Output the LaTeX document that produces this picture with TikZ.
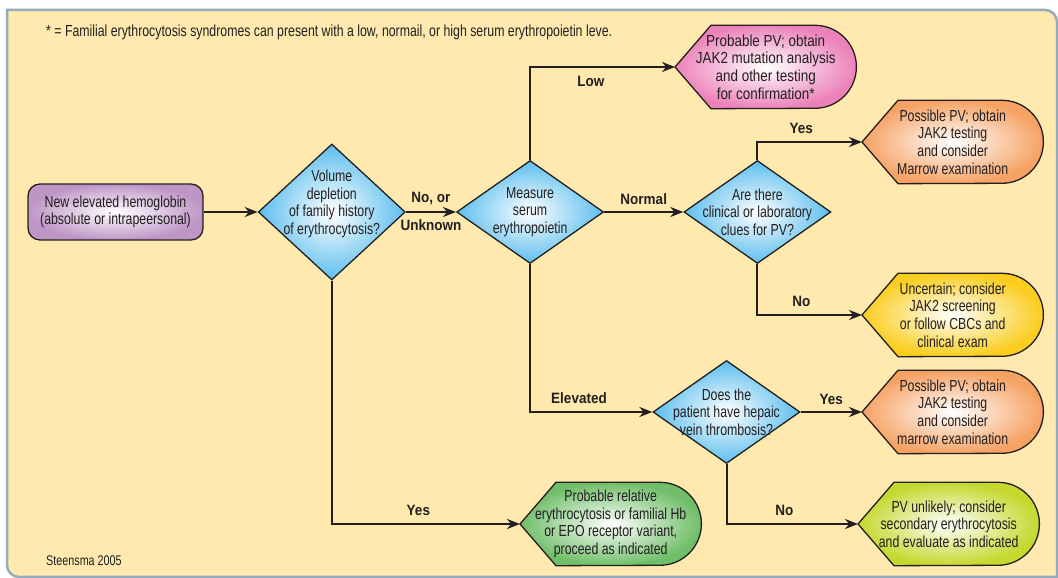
\documentclass[tikz,border=0pt]{standalone}
\usepackage{fontspec}
\setmainfont{Liberation Sans}[FakeStretch=0.77]
\newfontfamily\labelfont{Liberation Sans}[FakeStretch=0.9]
\newfontfamily\widefont{Liberation Sans}[FakeStretch=0.84]
\usetikzlibrary{
  positioning,
  shapes.geometric,
  arrows.meta,
  backgrounds
}

\definecolor{panelfill}{RGB}{255,233,175}
\definecolor{panelline}{RGB}{150,172,188}
\definecolor{inkline}{RGB}{35,31,32}
\definecolor{qblue}{RGB}{92,190,238}
\definecolor{startpurple}{RGB}{190,150,198}
\definecolor{lowpink}{RGB}{236,130,186}
\definecolor{pvorange}{RGB}{246,162,100}
\definecolor{unsureyellow}{RGB}{250,205,30}
\definecolor{relgreen}{RGB}{112,190,105}
\definecolor{limegreen}{RGB}{196,216,45}

% outline of a result: pointed at the west, round at the east
\newcommand{\resultshape}[2]{%
  \path[draw=inkline, line width=1.3pt, inner color=white, outer color=#2]
    (#1.west) -- ([xshift=36pt]#1.north west) -- ([xshift=-41.5pt]#1.north east)
    arc (90:-90:41.5pt) -- ([xshift=36pt]#1.south west) -- cycle;
}

\begin{document}
\begin{tikzpicture}[
  x=1pt, y=1pt,
  font=\fontsize{16}{17.6}\selectfont,
  text=inkline,
  start/.style={
    draw=inkline,
    line width=1.3pt,
    rounded corners=12pt,
    minimum width=175pt,
    minimum height=56pt,
    align=center,
    inner color=white,
    outer color=startpurple
  },
  decision/.style={
    diamond,
    draw=inkline,
    line width=1.3pt,
    minimum width=147pt,
    minimum height=103pt,
    inner sep=-20pt,
    align=center,
    inner color=white,
    outer color=qblue
  },
  result/.style={
    minimum width=181pt,
    minimum height=83pt,
    inner sep=0pt,
    align=center
  },
  lbl/.style={font=\labelfont\bfseries\fontsize{15}{16}\selectfont},
  arrow/.style={-{Stealth[length=13pt, width=10pt]}, line width=2pt, draw=inkline}
]

\useasboundingbox (0,0) rectangle (1058,578);

% Panel
\begin{scope}[on background layer]
\fill[white] (0,0) rectangle (1058,578);
\draw[panelline, line width=2.5pt, fill=panelfill]
  (7,568) -- (1045,568) arc (90:0:12) -- (1057,1) -- (19,1) arc (270:180:12) -- cycle;
\end{scope}

\node[anchor=west, inner sep=0pt, font=\fontsize{16}{16}\selectfont] (note) at (46,546)
  {* = Familial erythrocytosis syndromes can present with a low, normail, or high serum erythropoietin leve.};
\node[anchor=west, inner sep=0pt, font=\fontsize{14}{15}\selectfont] (source) at (46,17) {Steensma 2005};

% Questions
\node[start] (hgb) at (115.5,366) {New elevated hemoglobin\\(absolute or intrapeersonal)};
\node[decision, minimum height=136pt, right=54pt of hgb] (volume) {Volume\\depletion\\of family history\\of erythrocytosis?\\[2pt]};
\node[decision, right=50pt of volume] (epo) {Measure\\serum\\erythropoietin};
\node[decision, right=79pt of epo] (clues) {Are there\\clinical or laboratory\\clues for PV?};
\node[decision] (hepatic) at (726.5,166) {Does the\\patient have hepaic\\vein thrombosis?};

% Results
\node[result, anchor=west, font=\widefont\fontsize{16}{17.6}\selectfont] (probable) at (675,511) {Probable PV; obtain\\JAK2 mutation analysis\\and other testing\\for confirmation*};
\node[result, anchor=west] (pvone) at (862,436) {Possible PV; obtain\\JAK2 testing\\and consider\\Marrow examination};
\node[result, anchor=west] (uncertain) at (862,263) {Uncertain; consider\\JAK2 screening\\or follow CBCs and\\clinical exam};
\node[result, anchor=west] (pvtwo) at (862,166) {Possible PV; obtain\\JAK2 testing\\and consider\\marrow examination};
\node[result, anchor=west] (relative) at (520,54) {Probable relative\\erythrocytosis or familial Hb\\or EPO receptor variant,\\proceed as indicated};
\node[result, anchor=west] (unlikely) at (858,54) {PV unlikely; consider\\secondary erythrocytosis\\and evaluate as indicated};

\begin{scope}[on background layer]
\resultshape{probable}{lowpink}
\resultshape{pvone}{pvorange}
\resultshape{uncertain}{unsureyellow}
\resultshape{pvtwo}{pvorange}
\resultshape{relative}{relgreen}
\resultshape{unlikely}{limegreen}
\end{scope}

% Arrows
\draw[arrow] (hgb) -- (volume);
\draw[arrow] (volume) -- node[lbl, above=3pt]{No, or} node[lbl, below=3pt]{Unknown} (epo);
\draw[arrow] (epo.north) |- node[lbl, pos=0.71, below=5pt]{Low} (probable.west);
\draw[arrow] (epo) -- node[lbl, above=3pt]{Normal} (clues);
\draw[arrow] (clues.north) |- node[lbl, pos=0.71, above=4pt]{Yes} (pvone.west);
\draw[arrow] (clues.south) |- node[lbl, pos=0.71, above=4pt]{No} (uncertain.west);
\draw[arrow] (epo.south) |- node[lbl, pos=0.7, above=4pt]{Elevated} (hepatic.west);
\draw[arrow] (hepatic.east) -- node[lbl, above=3pt]{Yes} (pvtwo.west);
\draw[arrow] (hepatic.south) |- node[lbl, pos=0.72, above=4pt]{No} (unlikely.west);
\draw[arrow] (volume.south) |- node[lbl, pos=0.73, above=4pt]{Yes} (relative.west);

\end{tikzpicture}
\end{document}
